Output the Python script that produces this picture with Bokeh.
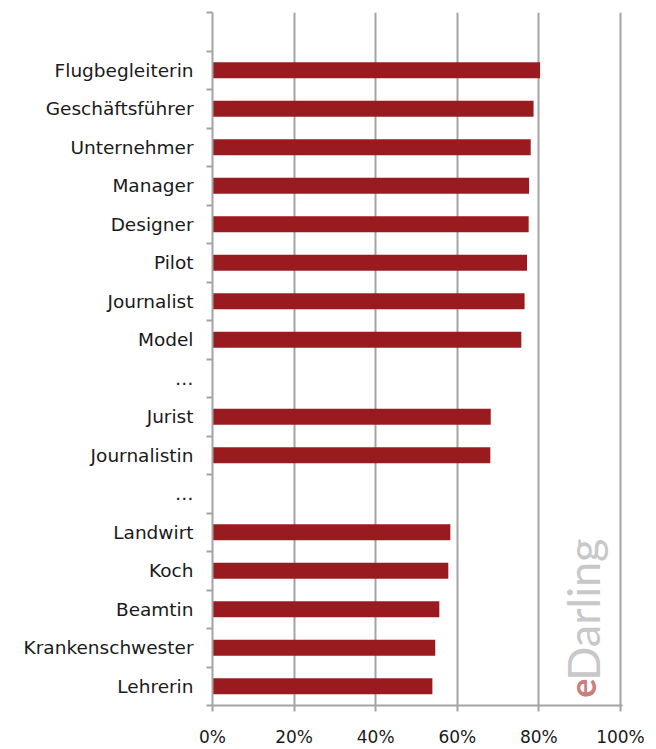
import math
from bokeh.plotting import figure
from bokeh.models import Range1d, FixedTicker
from bokeh.core.properties import value
from bokeh.embed import file_html
from bokeh.resources import INLINE

# Data (top to bottom)
categories = ["Flugbegleiterin", "Geschäftsführer", "Unternehmer", "Manager",
              "Designer", "Pilot", "Journalist", "Model", "…", "Jurist",
              "Journalistin", "…", "Landwirt", "Koch", "Beamtin",
              "Krankenschwester", "Lehrerin"]
shares = [80.3, 78.7, 78.0, 77.6, 77.5, 77.1, 76.5, 75.7, None, 68.2,
          68.1, None, 58.3, 57.8, 55.6, 54.6, 53.9]
x_ticks = [0, 20, 40, 60, 80, 100]
x_tick_labels = ["0%", "20%", "40%", "60%", "80%", "100%"]

n = len(categories)
n_slots = n + 1  # one empty slot at top
centers = [n - i - 0.5 for i in range(n)]

BAR = "#991b20"
GRID = "#a3a3a3"
FONT = "DejaVu Sans"

p = figure(width=652, height=749, output_backend="svg", toolbar_location=None,
           x_range=Range1d(0, 100.5), y_range=Range1d(0, n_slots),
           min_border_left=212, min_border_right=30, min_border_top=12,
           min_border_bottom=41)
p.outline_line_color = None
p.background_fill_color = "white"

bar_y = [c for c, v in zip(centers, shares) if v is not None]
bar_v = [v for v in shares if v is not None]
p.hbar(y=bar_y, left=0, right=bar_v, height=0.41, fill_color=BAR,
       line_color=None)

# grids
p.ygrid.grid_line_color = None
p.xgrid.ticker = FixedTicker(ticks=x_ticks[1:])
p.xgrid.grid_line_color = GRID
p.xgrid.grid_line_width = 2

# x axis
xa = p.xaxis[0]
xa.ticker = FixedTicker(ticks=x_ticks)
xa.major_label_overrides = {t: l for t, l in zip(x_ticks, x_tick_labels)}
xa.axis_line_color = GRID
xa.axis_line_width = 2
xa.major_tick_line_color = GRID
xa.major_tick_line_width = 2
xa.major_tick_out = 6
xa.major_tick_in = 0
xa.minor_tick_line_color = None
xa.major_label_standoff = 15
xa.major_label_text_font = FONT
xa.major_label_text_font_size = "17px"
xa.major_label_text_color = "#1a1a1a"

# y axis
ya = p.yaxis[0]
ya.ticker = FixedTicker(ticks=centers, minor_ticks=list(range(0, n_slots + 1)))
ya.major_label_overrides = {c: l for c, l in zip(centers, categories)}
ya.axis_line_color = GRID
ya.axis_line_width = 2
ya.major_tick_line_color = None
ya.major_tick_out = 0
ya.major_tick_in = 0
ya.minor_tick_line_color = GRID
ya.minor_tick_line_width = 2
ya.minor_tick_out = 6
ya.minor_tick_in = 0
ya.major_label_standoff = 13
ya.major_label_text_font = FONT
ya.major_label_text_font_size = "18.5px"
ya.major_label_text_color = "#1a1a1a"

# watermark
p.text(x=[90.8], y=[0.2], text=["e"], angle=math.pi / 2,
       text_font=value("Lato"), text_font_size="36px", text_font_style="bold",
       text_color="#c97f80", text_align="left", text_baseline="alphabetic")
p.text(x=[90.8], y=[0.64], text=["Darling"], angle=math.pi / 2,
       text_font=value("Lato"), text_font_size="45px",
       text_color="#c8c8c8", text_align="left", text_baseline="alphabetic")

open("out.html", "w").write(file_html(p, INLINE))
